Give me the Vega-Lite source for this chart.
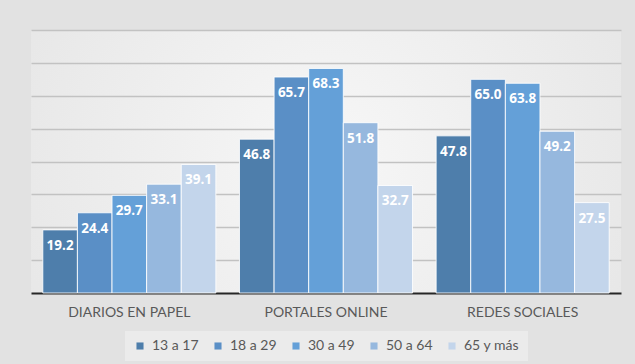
{
  "$schema": "https://vega.github.io/schema/vega-lite/v6.json",
  "width": 590,
  "height": 263,
  "autosize": {"type": "none"},
  "padding": {"left": 31, "top": 30, "right": 14, "bottom": 71},
  "background": "#e2e2e2",
  "data": {
    "values": [
      {"medio": "DIARIOS EN PAPEL", "edad": "13 a 17", "valor": 19.2},
      {"medio": "DIARIOS EN PAPEL", "edad": "18 a 29", "valor": 24.4},
      {"medio": "DIARIOS EN PAPEL", "edad": "30 a 49", "valor": 29.7},
      {"medio": "DIARIOS EN PAPEL", "edad": "50 a 64", "valor": 33.1},
      {"medio": "DIARIOS EN PAPEL", "edad": "65 y más", "valor": 39.1},
      {"medio": "PORTALES ONLINE", "edad": "13 a 17", "valor": 46.8},
      {"medio": "PORTALES ONLINE", "edad": "18 a 29", "valor": 65.7},
      {"medio": "PORTALES ONLINE", "edad": "30 a 49", "valor": 68.3},
      {"medio": "PORTALES ONLINE", "edad": "50 a 64", "valor": 51.8},
      {"medio": "PORTALES ONLINE", "edad": "65 y más", "valor": 32.7},
      {"medio": "REDES SOCIALES", "edad": "13 a 17", "valor": 47.8},
      {"medio": "REDES SOCIALES", "edad": "18 a 29", "valor": 65.0},
      {"medio": "REDES SOCIALES", "edad": "30 a 49", "valor": 63.8},
      {"medio": "REDES SOCIALES", "edad": "50 a 64", "valor": 49.2},
      {"medio": "REDES SOCIALES", "edad": "65 y más", "valor": 27.5}
    ]
  },
  "encoding": {
    "x": {
      "field": "medio", "type": "nominal", "sort": null,
      "scale": {"paddingInner": 0.12, "paddingOuter": 0.06},
      "axis": {
        "title": null, "labelAngle": 0, "ticks": false, "labelPadding": 12,
        "labelFont": "Lato", "labelFontSize": 14, "labelColor": "#595959",
        "domainColor": "#262626", "domainWidth": 2, "grid": false
      }
    },
    "xOffset": {
      "field": "edad", "type": "nominal", "sort": null,
      "scale": {"paddingInner": 0, "paddingOuter": 0}
    },
    "y": {
      "field": "valor", "type": "quantitative",
      "scale": {"domain": [0, 80], "nice": false},
      "axis": {
        "title": null, "labels": false, "ticks": false, "domain": false,
        "values": [10, 20, 30, 40, 50, 60, 70, 80],
        "grid": true, "gridColor": "#c2c2c2", "gridWidth": 1.5
      }
    }
  },
  "layer": [
    {
      "mark": {"type": "bar", "stroke": "#ffffff", "strokeWidth": 1, "strokeOpacity": 0.85},
      "encoding": {
        "color": {
          "field": "edad", "type": "nominal", "sort": null,
          "scale": {
            "domain": ["13 a 17", "18 a 29", "30 a 49", "50 a 64", "65 y más"],
            "range": ["#4e7eab", "#5a8fc6", "#64a0d8", "#96b8de", "#c3d5eb"]
          },
          "legend": {
            "title": null, "orient": "bottom", "direction": "horizontal", "columns": 5,
            "symbolType": "square", "symbolSize": 50, "symbolStrokeWidth": 0,
            "labelFont": "Lato", "labelFontSize": 14, "labelColor": "#595959",
            "labelOffset": 5, "columnPadding": 12,
            "fillColor": "#ebebeb", "padding": 8, "offset": 12
          }
        }
      }
    },
    {
      "mark": {"type": "text", "dy": 16, "baseline": "middle", "align": "center",
               "font": "Open Sans", "fontWeight": "bold", "fontSize": 13.5, "fill": "#ffffff"},
      "encoding": {
        "text": {"field": "valor", "type": "quantitative", "format": ".1f"}
      }
    }
  ],
  "config": {
    "view": {
      "stroke": null,
      "fill": {"gradient": "radial", "x1": 0.5, "y1": 0.5, "r1": 0, "x2": 0.5, "y2": 0.5, "r2": 0.75,
               "stops": [{"offset": 0, "color": "#f7f7f7"}, {"offset": 1, "color": "#e2e2e2"}]}
    },
    "axis": {"gridCap": "butt"},
    "legend": {"layout": {"bottom": {"anchor": "middle"}}}
  }
}
